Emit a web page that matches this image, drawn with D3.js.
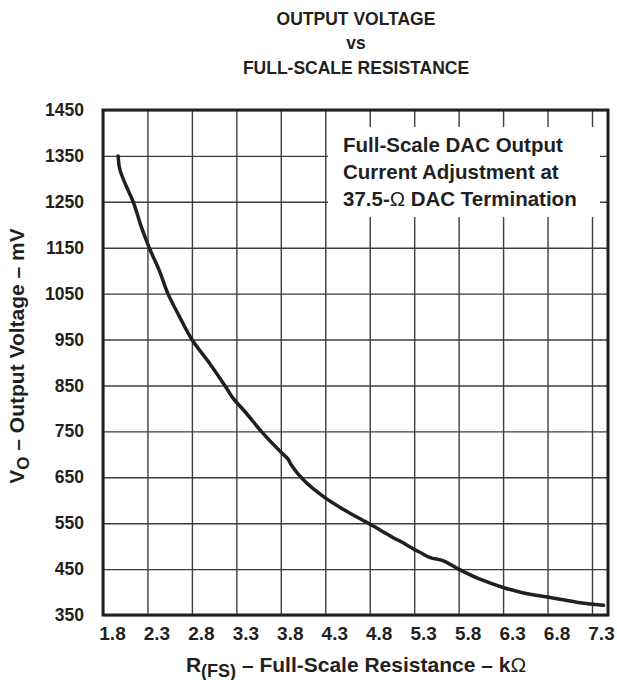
<!DOCTYPE html>
<html>
<head>
<meta charset="utf-8">
<script src="https://cdn.jsdelivr.net/npm/d3@7"></script>
<style>
  body { margin: 0; background: #fff; }
  text { font-family: "Liberation Sans", Arial, sans-serif; font-weight: bold; fill: #231f20; }
</style>
</head>
<body>
<svg id="chart" width="617" height="680"></svg>
<script>
(function () {
  'use strict';

  // tick labels
  var xTicks = [1.8, 2.3, 2.8, 3.3, 3.8, 4.3, 4.8, 5.3, 5.8, 6.3, 6.8, 7.3];
  var yTicks = [350, 450, 550, 650, 750, 850, 950, 1050, 1150, 1250, 1350, 1450];

  // curve: R(FS) in kOhm, VO in mV
  var rfs = [1.97, 1.99, 2.06, 2.14, 2.23, 2.32, 2.44, 2.53, 2.66, 2.80, 3.00, 3.17,
             3.26, 3.41, 3.58, 3.80, 3.88, 3.92, 4.05, 4.30, 4.54, 4.80, 5.06, 5.14,
             5.30, 5.37, 5.48, 5.63, 5.80, 6.04, 6.30, 6.53, 6.80, 7.13, 7.43];
  var vout = [1350, 1320, 1285, 1250, 1196, 1150, 1097, 1050, 1000, 950, 898, 850,
              823, 790, 750, 705, 690, 676, 645, 605, 576, 548, 519, 511,
              493, 486, 475, 468, 450, 428, 410, 398, 389, 378, 371];

  var left = 103, right = 608, top = 110, bottom = 615;

  var svg = d3.select('#chart');

  var x = d3.scaleLinear().domain([1.8, 7.48]).range([left, right]);
  var y = d3.scaleLinear().domain([350, 1450]).range([bottom, top]);

  // grid
  svg.append('g')
    .attr('transform', 'translate(0,' + bottom + ')')
    .call(d3.axisBottom(x).tickValues(xTicks).tickSize(-(bottom - top)).tickFormat(''))
    .call(function (g) {
      g.select('.domain').remove();
      g.selectAll('line').attr('stroke', '#3d3d3d').attr('stroke-width', 1.4);
    });

  svg.append('g')
    .attr('transform', 'translate(' + left + ',0)')
    .call(d3.axisLeft(y).tickValues(yTicks).tickSize(-(right - left)).tickFormat(''))
    .call(function (g) {
      g.select('.domain').remove();
      g.selectAll('line').attr('stroke', '#3d3d3d').attr('stroke-width', 1.4);
    });

  // annotation box covers the grid
  svg.append('rect')
    .attr('x', 328).attr('y', 127)
    .attr('width', 272).attr('height', 90)
    .attr('fill', '#fff');

  var note = svg.append('text').attr('font-size', 20.5);
  note.append('tspan').attr('x', 343).attr('y', 152).text('Full-Scale DAC Output');
  note.append('tspan').attr('x', 343).attr('y', 179).text('Current Adjustment at');
  note.append('tspan').attr('x', 343).attr('y', 206).text('37.5-');
  note.append('tspan').attr('font-weight', 'normal').text('Ω');
  note.append('tspan').text(' DAC Termination');

  // frame
  svg.append('rect')
    .attr('x', left).attr('y', top)
    .attr('width', right - left).attr('height', bottom - top)
    .attr('fill', 'none').attr('stroke', '#231f20').attr('stroke-width', 3);

  // curve
  var pts = d3.zip(rfs, vout);
  var line = d3.line()
    .x(function (d) { return x(d[0]); })
    .y(function (d) { return y(d[1]); })
    .curve(d3.curveCatmullRom);

  svg.append('path')
    .datum(pts)
    .attr('d', line)
    .attr('fill', 'none')
    .attr('stroke', '#231f20')
    .attr('stroke-width', 3.5)
    .attr('stroke-linecap', 'round');

  // tick labels
  svg.append('g')
    .attr('transform', 'translate(0,' + bottom + ')')
    .call(d3.axisBottom(x).tickValues(xTicks).tickSize(0).tickPadding(12)
      .tickFormat(d3.format('.1f')))
    .call(function (g) {
      g.select('.domain').remove();
      g.selectAll('text')
        .attr('font-size', 19).attr('font-family', null)
        .attr('dx', 9).attr('fill', '#231f20');
    });

  svg.append('g')
    .attr('transform', 'translate(' + left + ',0)')
    .call(d3.axisLeft(y).tickValues(yTicks).tickSize(0).tickPadding(19)
      .tickFormat(d3.format('d')))
    .call(function (g) {
      g.select('.domain').remove();
      g.selectAll('text')
        .attr('font-size', 17.5).attr('font-family', null).attr('fill', '#231f20');
    });

  // titles
  var title = svg.append('text').attr('font-size', 17.5).attr('text-anchor', 'middle');
  title.append('tspan').attr('x', 356).attr('y', 25).text('OUTPUT VOLTAGE');
  title.append('tspan').attr('x', 356).attr('y', 49).text('vs');
  title.append('tspan').attr('x', 356).attr('y', 74).text('FULL-SCALE RESISTANCE');

  var xt = svg.append('text').attr('font-size', 21).attr('text-anchor', 'middle')
    .attr('x', 356).attr('y', 672);
  xt.append('tspan').text('R');
  xt.append('tspan').attr('font-size', 18).attr('dy', 5).text('(FS)');
  xt.append('tspan').attr('dy', -5).text(' – Full-Scale Resistance – k');
  xt.append('tspan').attr('font-weight', 'normal').text('Ω');

  var yt = svg.append('text').attr('font-size', 21).attr('text-anchor', 'middle')
    .attr('transform', 'translate(24,' + 356 + ') rotate(-90)');
  yt.append('tspan').text('V');
  yt.append('tspan').attr('font-size', 17).attr('dy', 5).text('O');
  yt.append('tspan').attr('dy', -5).text(' – Output Voltage – mV');
})();
</script>
</body>
</html>
